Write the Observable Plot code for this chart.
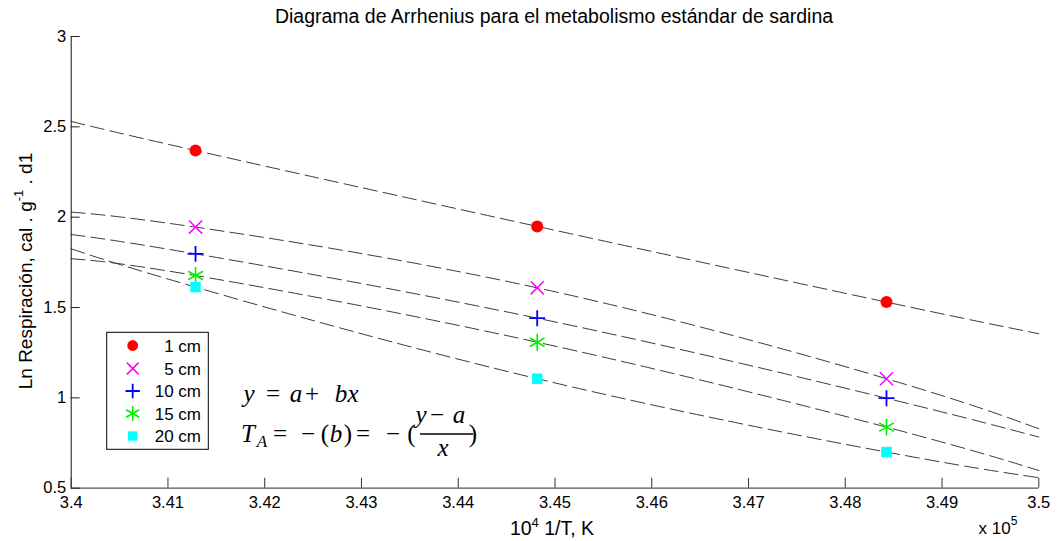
<!DOCTYPE html>
<html><head><meta charset="utf-8">
<script src="https://cdn.jsdelivr.net/npm/d3@7"></script>
<script src="https://cdn.jsdelivr.net/npm/@observablehq/plot@0.6"></script>
<style>
body{margin:0;background:#fff;}
#chart{position:relative;width:1057px;height:541px;}
</style>
</head><body><div id="chart"></div>
<script>
// ---- data ----
const sizes = ["1 cm", "5 cm", "10 cm", "15 cm", "20 cm"];
const xPoints = [3.41285, 3.44816, 3.48426];          // 10^4 1/T
const xLine = [3.4, 3.41285, 3.44816, 3.48426, 3.5];  // fitted curve sample positions
const pts1  = [2.369, 1.949, 1.530];
const pts5  = [1.945, 1.609, 1.106];
const pts10 = [1.797, 1.441, 0.998];
const pts15 = [1.677, 1.308, 0.838];
const pts20 = [1.613, 1.106, 0.700];
const fit1  = [2.530, 2.369, 1.949, 1.530, 1.355];
const fit5  = [2.028, 1.945, 1.609, 1.106, 0.829];
const fit10 = [1.904, 1.797, 1.441, 0.998, 0.783];
const fit15 = [1.770, 1.677, 1.308, 0.838, 0.598];
const fit20 = [1.825, 1.613, 1.106, 0.700, 0.558];
const xTicks = [3.4, 3.41, 3.42, 3.43, 3.44, 3.45, 3.46, 3.47, 3.48, 3.49, 3.5];
const xTickLabels = ["3.4","3.41","3.42","3.43","3.44","3.45","3.46","3.47","3.48","3.49","3.5"];
const yTicks = [0.5, 1, 1.5, 2, 2.5, 3];
const yTickLabels = ["0.5","1","1.5","2","2.5","3"];

const seriesPts = [pts1, pts5, pts10, pts15, pts20];
const seriesFit = [fit1, fit5, fit10, fit15, fit20];
const styles = [
  {symbol: "circle",   r: 6,   fill: "#ff0000", stroke: "none", strokeWidth: 0},
  {symbol: "times",    r: 6,   fill: "none", stroke: "#ff00ff", strokeWidth: 1.5},
  {symbol: "plus",     r: 5.2, fill: "none", stroke: "#0000ff", strokeWidth: 1.8},
  {symbol: "asterisk", r: 8,   fill: "none", stroke: "#00f000", strokeWidth: 1.6},
  {symbol: "square",   r: 5.9, fill: "#00ffff", stroke: "none", strokeWidth: 0}
];

const font = '"Liberation Sans", Arial, sans-serif';
const marks = [];
seriesFit.forEach(f => {
  marks.push(Plot.line(xLine.map((x, i) => ({x, y: f[i]})), {
    x: "x", y: "y", curve: "natural", stroke: "#3c3c3c", strokeWidth: 1, strokeDasharray: "14,6"
  }));
});
seriesPts.forEach((p, k) => {
  const s = styles[k];
  marks.push(Plot.dot(xPoints.map((x, i) => ({x, y: p[i]})), {
    x: "x", y: "y", symbol: s.symbol, r: s.r, fill: s.fill, stroke: s.stroke, strokeWidth: s.strokeWidth
  }));
});
marks.push(Plot.ruleY([yTicks[0]], {stroke: "#555", strokeWidth: 1.2}));
marks.push(Plot.ruleX([xTicks[0]], {stroke: "#111", strokeWidth: 1}));
marks.push(Plot.axisX(xTicks, {tickFormat: d => xTickLabels[xTicks.indexOf(d)], tickSize: -10, tickPadding: 18, label: null, stroke: "#333"}));
marks.push(Plot.axisY(yTicks, {tickFormat: d => yTickLabels[yTicks.indexOf(d)], tickSize: -9, tickPadding: 14, label: null, stroke: "#222"}));

const svg = Plot.plot({
  width: 1057, height: 541,
  marginLeft: 70.7, marginRight: 18.7, marginTop: 36, marginBottom: 53.3,
  x: {domain: [xTicks[0], xTicks[xTicks.length - 1]]},
  y: {domain: [yTicks[0], yTicks[yTicks.length - 1]]},
  style: {fontFamily: font, fontSize: "16.5px", background: "white", color: "black", overflow: "visible"},
  marks
});
document.getElementById("chart").appendChild(svg);

// ---- annotations ----
const g = d3.select(svg).append("g").attr("font-family", font).attr("fill", "black");
g.append("text").attr("x", 554).attr("y", 23).attr("text-anchor", "middle").attr("font-size", 19.5)
  .text("Diagrama de Arrhenius para el metabolismo estándar de sardina");

const xl = g.append("text").attr("x", 552).attr("y", 535).attr("text-anchor", "middle").attr("font-size", 19.5);
xl.append("tspan").text("10");
xl.append("tspan").attr("dy", -8).attr("font-size", 13).text("4");
xl.append("tspan").attr("dy", 8).text(" 1/T, K");

const yl = g.append("text").attr("transform", "translate(32,271) rotate(-90)").attr("text-anchor", "middle").attr("font-size", 19);
yl.append("tspan").text("Ln Respiración, cal . g");
yl.append("tspan").attr("dy", -9).attr("font-size", 13).text("-1");
yl.append("tspan").attr("dy", 9).text(" . d1");

const xe = g.append("text").attr("x", 998).attr("y", 534).attr("font-size", 17);
xe.append("tspan").text("x 10");
xe.append("tspan").attr("dy", -9).attr("font-size", 12).text("5");

// legend
const lg = g.append("g");
lg.append("rect").attr("x", 106.7).attr("y", 332.3).attr("width", 101.6).attr("height", 117)
  .attr("fill", "white").attr("stroke", "black").attr("stroke-width", 1);
const symMap = {circle: d3.symbolCircle, times: d3.symbolTimes, plus: d3.symbolPlus, asterisk: d3.symbolAsterisk, square: d3.symbolSquare};
const rowsY = [345.5, 368.5, 391, 413.5, 436];
sizes.forEach((lab, k) => {
  const s = styles[k];
  const r = s.r * 0.9;
  lg.append("path").attr("transform", `translate(132.7,${rowsY[k]})`)
    .attr("d", d3.symbol(symMap[s.symbol], Math.PI * r * r)())
    .attr("fill", s.fill).attr("stroke", s.stroke).attr("stroke-width", s.strokeWidth);
  lg.append("text").attr("x", 201).attr("y", rowsY[k] + 6).attr("text-anchor", "end").attr("font-size", 17).text(lab);
});

// equations
const ser = '"Liberation Serif", "Times New Roman", serif';
const eq = g.append("g").attr("font-family", ser).attr("font-size", 25);
function put(x, y, t, italic, size) {
  const e = eq.append("text").attr("x", x).attr("y", y).text(t);
  if (italic) e.attr("font-style", "italic");
  if (size) e.attr("font-size", size);
  return e;
}
put(249, 402, "y", true); put(273, 402, "=", false); put(296, 402, "a", true);
put(312, 402, "+", false); put(341, 402, "b", true); put(353, 402, "x", true);
put(248, 441.5, "T", true); put(262, 447, "A", true, 17); put(280, 441.5, "=", false);
put(308, 441.5, "\u2212", false); put(325, 441.5, "(", false); put(336, 441.5, "b", true);
put(348, 441.5, ")", false); put(363, 441.5, "=", false); put(393, 441.5, "\u2212", false);
put(411.5, 441.5, "(", false); put(421, 423, "y", true); put(437, 423, "\u2212", false);
put(459, 423, "a", true); put(443, 456, "x", true); put(473, 441.5, ")", false);
eq.append("line").attr("x1", 420).attr("x2", 473).attr("y1", 434).attr("y2", 434).attr("stroke", "black").attr("stroke-width", 1.3);
</script>
</body></html>
